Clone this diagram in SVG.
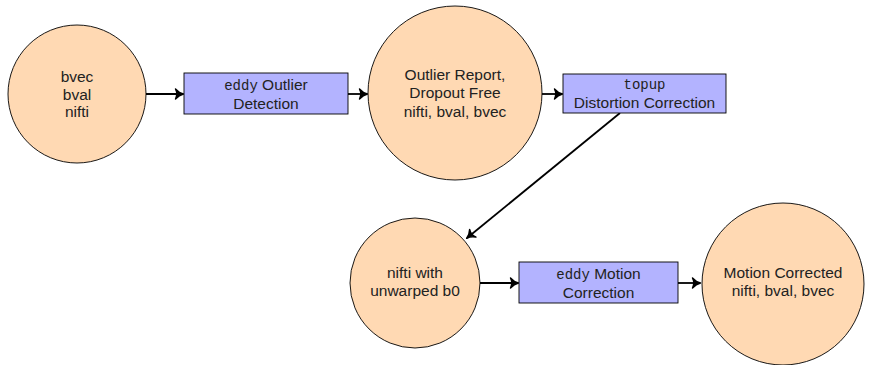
<svg xmlns="http://www.w3.org/2000/svg" width="878" height="365" viewBox="0 0 878 365">
<defs>
<style>
.c{fill:#FFD9B3;stroke:#000;stroke-width:0.9}
.b{fill:#B3B3FF;stroke:#000;stroke-width:0.9}
text{font-family:"Liberation Sans",Arial,sans-serif;font-size:15.5px;fill:#222;text-anchor:middle}
.m{font-family:"Liberation Mono","Courier New",monospace;font-size:14px}
.e{fill:none;stroke:#000;stroke-width:1.8}
</style>
<marker id="ah" markerWidth="14" markerHeight="14" refX="10" refY="7" orient="auto" markerUnits="userSpaceOnUse">
<path d="M2.5,2 Q6,6 10.5,7 Q6,8 2.5,12 Q5,7 2.5,2 Z" fill="#000" stroke="#000" stroke-width="1.4" stroke-linejoin="round"/>
</marker>
</defs>
<rect width="878" height="365" fill="#fff"/>
<g id="connectors">
<line class="e" x1="146" y1="94" x2="183" y2="94" marker-end="url(#ah)"/>
<line class="e" x1="348" y1="94" x2="367" y2="94" marker-end="url(#ah)"/>
<line class="e" x1="542" y1="94" x2="562" y2="94" marker-end="url(#ah)"/>
<line class="e" x1="620" y1="113" x2="467" y2="238" marker-end="url(#ah)"/>
<line class="e" x1="480" y1="283" x2="518" y2="283" marker-end="url(#ah)"/>
<line class="e" x1="678" y1="283" x2="700" y2="283" marker-end="url(#ah)"/>
</g>
<g id="n1">
<circle class="c" cx="77" cy="94" r="69"/>
<text x="77" y="82">bvec</text>
<text x="77" y="99.5">bval</text>
<text x="77" y="117">nifti</text>
</g>
<g id="n2">
<rect class="b" x="184" y="73" width="164" height="41"/>
<text x="266" y="90"><tspan class="m">eddy</tspan> Outlier</text>
<text x="266" y="108.5">Detection</text>
</g>
<g id="n3">
<circle class="c" cx="455" cy="93" r="87"/>
<text x="455" y="80">Outlier Report,</text>
<text x="455" y="98">Dropout Free</text>
<text x="455" y="116.5">nifti, bval, bvec</text>
</g>
<g id="n4">
<rect class="b" x="563" y="74" width="163" height="39"/>
<text x="644.5" y="89" class="m">topup</text>
<text x="644.5" y="108">Distortion Correction</text>
</g>
<g id="n5">
<circle class="c" cx="415" cy="283" r="65"/>
<text x="415" y="278">nifti with</text>
<text x="415" y="296">unwarped b0</text>
</g>
<g id="n6">
<rect class="b" x="519" y="262" width="159" height="41"/>
<text x="598.5" y="279"><tspan class="m">eddy</tspan> Motion</text>
<text x="598.5" y="298">Correction</text>
</g>
<g id="n7">
<circle class="c" cx="783" cy="284" r="81"/>
<text x="783" y="278">Motion Corrected</text>
<text x="783" y="296">nifti, bval, bvec</text>
</g>
</svg>
